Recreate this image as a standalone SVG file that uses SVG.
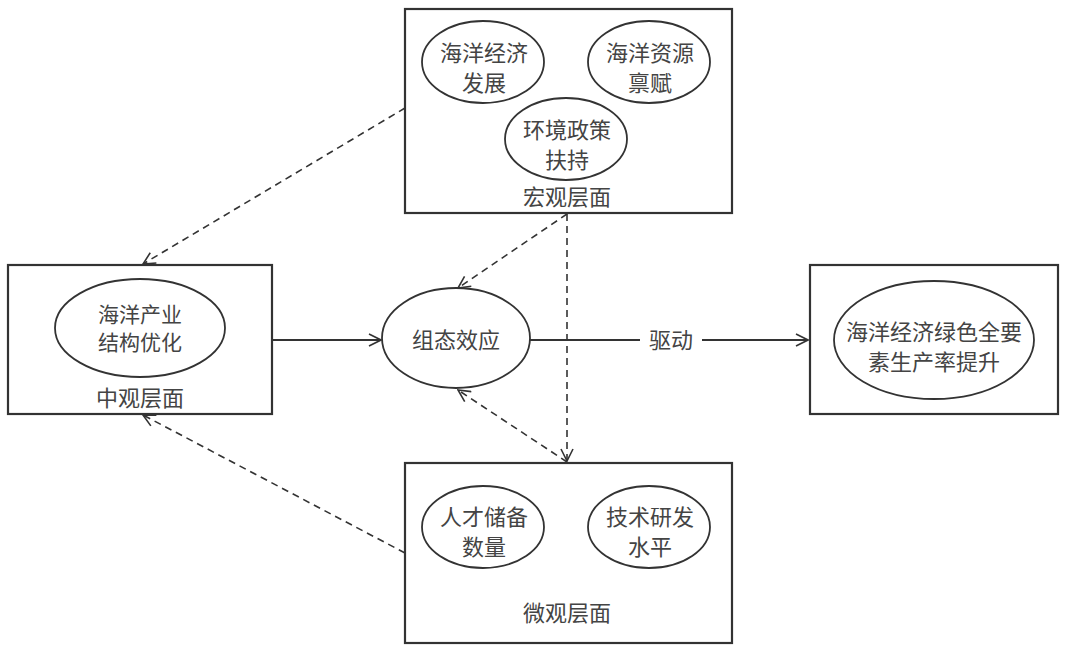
<svg xmlns="http://www.w3.org/2000/svg" width="1065" height="645" viewBox="0 0 1065 645">
<defs>
<marker id="arr" viewBox="0 0 14 14" refX="13" refY="7" markerWidth="14" markerHeight="14" markerUnits="userSpaceOnUse" orient="auto">
<path d="M1,1 L13,7 L1,13" fill="none" stroke="#333" stroke-width="1.6"/>
</marker>
</defs>
<style>
.box{fill:#fff;stroke:#333;stroke-width:2.2}
.ell{fill:#fff;stroke:#333;stroke-width:1.8}
.t{font-family:"Noto Sans CJK SC","Noto Sans",sans-serif;font-size:22px;fill:#444;text-anchor:middle}
.s{font-size:21px}
.solid{fill:none;stroke:#333;stroke-width:1.8}
.dash{fill:none;stroke:#333;stroke-width:1.6;stroke-dasharray:7 5}
</style>
<rect width="1065" height="645" fill="#fff"/>
<g id="connectors">
<line class="solid" x1="273" y1="340" x2="381" y2="340" marker-end="url(#arr)"/>
<line class="solid" x1="530" y1="340" x2="640" y2="340"/>
<line class="solid" x1="702" y1="340" x2="808" y2="340" marker-end="url(#arr)"/>
<text class="t" x="671" y="348">驱动</text>
<line class="dash" x1="567" y1="214" x2="567" y2="461" marker-end="url(#arr)"/>
<line class="dash" x1="567" y1="214" x2="458" y2="288" marker-end="url(#arr)"/>
<line class="dash" x1="567" y1="462" x2="458" y2="390" marker-end="url(#arr)"/>
<line class="dash" x1="405" y1="108" x2="143" y2="264" marker-end="url(#arr)"/>
<line class="dash" x1="405" y1="553" x2="143" y2="415" marker-end="url(#arr)"/>
</g>
<g id="macro">
<rect class="box" x="405" y="9" width="327" height="204"/>
<ellipse class="ell" cx="483" cy="62" rx="61" ry="41"/>
<text class="t" x="484" y="61">海洋经济</text>
<text class="t" x="484" y="91">发展</text>
<ellipse class="ell" cx="649" cy="62" rx="61" ry="41"/>
<text class="t" x="650" y="61">海洋资源</text>
<text class="t" x="650" y="91">禀赋</text>
<ellipse class="ell" cx="566" cy="139" rx="61" ry="41"/>
<text class="t" x="567" y="138">环境政策</text>
<text class="t" x="567" y="168">扶持</text>
<text class="t" x="567" y="205">宏观层面</text>
</g>
<g id="meso">
<rect class="box" x="8" y="265" width="264" height="149"/>
<ellipse class="ell" cx="140" cy="328" rx="85" ry="49"/>
<text class="t s" x="140" y="322">海洋产业</text>
<text class="t s" x="140" y="350">结构优化</text>
<text class="t" x="140" y="406">中观层面</text>
</g>
<g id="config">
<ellipse class="ell" cx="456" cy="338" rx="74" ry="50"/>
<text class="t" x="456" y="348">组态效应</text>
</g>
<g id="result">
<rect class="box" x="810" y="265" width="248" height="149"/>
<ellipse class="ell" cx="934" cy="340" rx="100" ry="59"/>
<text class="t" x="934" y="340">海洋经济绿色全要</text>
<text class="t" x="934" y="370">素生产率提升</text>
</g>
<g id="micro">
<rect class="box" x="405" y="463" width="327" height="180"/>
<ellipse class="ell" cx="483" cy="527" rx="61" ry="41"/>
<text class="t" x="484" y="525">人才储备</text>
<text class="t" x="484" y="555">数量</text>
<ellipse class="ell" cx="649" cy="527" rx="61" ry="41"/>
<text class="t" x="650" y="525">技术研发</text>
<text class="t" x="650" y="555">水平</text>
<text class="t" x="567" y="621">微观层面</text>
</g>
</svg>
